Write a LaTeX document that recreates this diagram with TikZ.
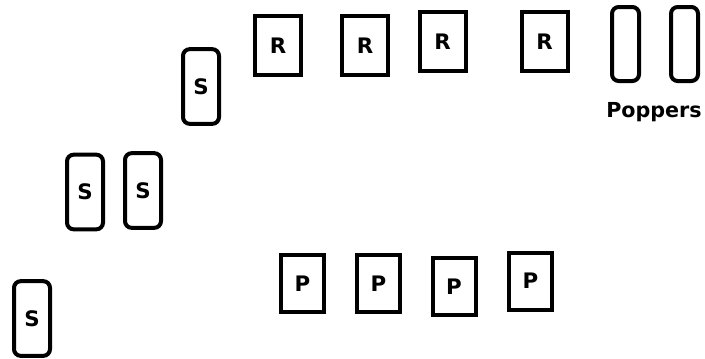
\documentclass[tikz,border=0pt]{standalone}
\usepackage{fontspec}
\usepackage{tikz}
\newfontfamily\lblfont{DejaVu Sans}

\begin{document}
\begin{tikzpicture}[x=0.75pt, y=-0.75pt,
  font=\lblfont\bfseries\fontsize{16}{19}\selectfont,
  box/.style={draw=black, line width=3pt, inner sep=0pt, align=center},
  sbox/.style={box, rounded corners=5pt, minimum width=27pt, minimum height=56pt},
  rbox/.style={box, minimum width=34.5pt, minimum height=44pt},
  pbox/.style={box, minimum width=32.25pt, minimum height=42.75pt},
  popbox/.style={box, rounded corners=5pt, minimum width=20.25pt, minimum height=55.5pt},
  grp/.style={font=\lblfont\bfseries\fontsize{15.5}{18}\selectfont, inner sep=0pt}]
\useasboundingbox (0,0) rectangle (705,358);
% staircase of S boxes
\node[sbox] (sa) at (201,86.5) {S};
\node[sbox] (sb) at (85,192) {S};
\node[sbox] (sc) at (143,190.5) {S};
\node[sbox] (sd) at (32,318.5) {S};
% top row
\node[rbox] (ra) at (278,45.5) {R};
\node[rbox] (rb) at (365,45.5) {R};
\node[rbox] (rc) at (442.5,41.5) {R};
\node[rbox] (rd) at (544.5,41.5) {R};
\node[popbox] (popa) at (625.5,44) {};
\node[popbox] (popb) at (684.5,44) {};
\node[grp] (poplbl) at (654,112) {Poppers};
% bottom row
\node[pbox] (pa) at (302.5,283.5) {P};
\node[pbox] (pb) at (378.5,283.5) {P};
\node[pbox] (pc) at (454,286.5) {P};
\node[pbox] (pd) at (530.5,281) {P};
\end{tikzpicture}
\end{document}
